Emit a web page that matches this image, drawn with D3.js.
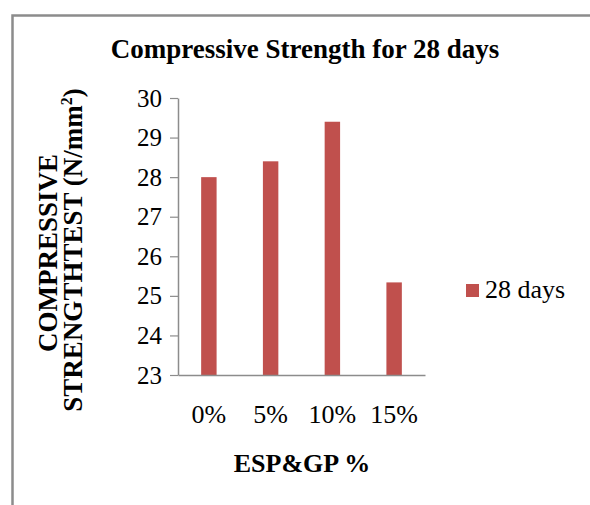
<!DOCTYPE html>
<html>
<head>
<meta charset="utf-8">
<script src="https://cdn.jsdelivr.net/npm/d3@7"></script>
<style>
  html, body { margin: 0; padding: 0; background: #fff; }
  svg { display: block; }
  text { font-family: "Liberation Serif", "Times New Roman", serif; fill: #000; }
</style>
</head>
<body>
<div id="chart"></div>
<script>
const categories = ["0%", "5%", "10%", "15%"];
const values = [28.0, 28.4, 29.4, 25.34];
const yTicks = [23, 24, 25, 26, 27, 28, 29, 30];
const seriesName = "28 days";
const chartTitle = "Compressive Strength for 28 days";
const xTitle = "ESP&GP %";
const yTitleLine1 = "COMPRESSIVE";
const yTitleLine2 = "STRENGTHTEST (N/mm";

const W = 590, H = 505;
const svg = d3.select("#chart").append("svg").attr("width", W).attr("height", H);
svg.append("rect").attr("width", W).attr("height", H).attr("fill", "#fff");

// outer frame (only top and left visible)
svg.append("rect").attr("x", 12.5).attr("y", 15.5).attr("width", 700).attr("height", 700)
  .attr("fill", "none").attr("stroke", "#8c8c8c").attr("stroke-width", 2.5);

const x = d3.scaleBand().domain(categories).range([178, 425]).padding(0);
const y = d3.scaleLinear().domain([23, 30]).range([375, 98]);
const barW = x.bandwidth() * 0.25;

// bars
svg.append("g").selectAll("rect").data(values).join("rect")
  .attr("x", (d, i) => x(categories[i]) + x.bandwidth() / 2 - barW / 2)
  .attr("y", d => y(d))
  .attr("width", barW)
  .attr("height", d => y(23) - y(d))
  .attr("fill", "#C0504D");

// y axis
const yAxis = svg.append("g").attr("transform", "translate(178,0)")
  .call(d3.axisLeft(y).tickValues(yTicks).tickSize(8).tickSizeOuter(0).tickPadding(8).tickFormat(d3.format("d")));
yAxis.select(".domain").attr("stroke", "#8c8c8c").attr("stroke-width", 1.5);
yAxis.selectAll(".tick line").attr("stroke", "#8c8c8c").attr("stroke-width", 1.2);
yAxis.selectAll(".tick text").attr("font-size", 25).attr("font-family", "Liberation Serif").attr("fill", "#000");

// x axis
const xAxis = svg.append("g").attr("transform", "translate(0,375)")
  .call(d3.axisBottom(x).tickSize(0).tickSizeOuter(0).tickPadding(30));
xAxis.select(".domain").attr("stroke", "#8c8c8c").attr("stroke-width", 1.5);
xAxis.selectAll(".tick text").attr("font-size", 26).attr("font-family", "Liberation Serif").attr("fill", "#000");

// title
svg.append("text").attr("x", 305).attr("y", 58).attr("text-anchor", "middle")
  .attr("font-size", 27).attr("font-weight", "bold").text(chartTitle);

// x title
svg.append("text").attr("x", 302).attr("y", 472).attr("text-anchor", "middle")
  .attr("font-size", 26).attr("font-weight", "bold").text(xTitle);

// y title
svg.append("text").attr("transform", "translate(57,253) rotate(-90)").attr("text-anchor", "middle")
  .attr("font-size", 27).attr("font-weight", "bold").text(yTitleLine1);
const yt2 = svg.append("text").attr("transform", "translate(82,250) rotate(-90)").attr("text-anchor", "middle")
  .attr("font-size", 27).attr("font-weight", "bold");
yt2.append("tspan").text(yTitleLine2);
yt2.append("tspan").attr("font-size", 16).attr("dy", -10).text("2");
yt2.append("tspan").attr("dy", 10).text(")");

// legend
const lg = svg.append("g");
lg.append("rect").attr("x", 466).attr("y", 284).attr("width", 13).attr("height", 13).attr("fill", "#C0504D");
lg.append("text").attr("x", 485).attr("y", 298).attr("font-size", 26).text(seriesName);
</script>
</body>
</html>
